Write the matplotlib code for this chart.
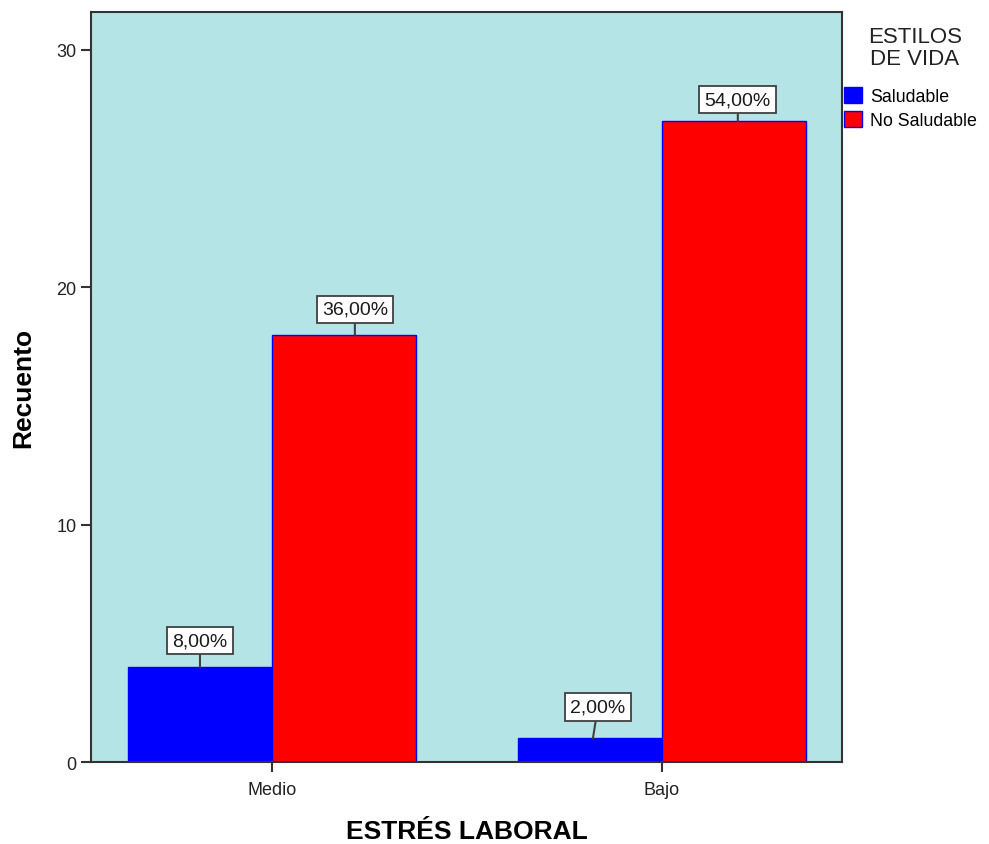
import matplotlib.pyplot as plt
import matplotlib.transforms as mtransforms
import numpy as np

plt.rcParams["font.family"] = ["Liberation Sans", "DejaVu Sans"]

categories = ["Medio", "Bajo"]
groups = ["Saludable", "No Saludable"]
counts = {
    "Saludable": [4, 1],
    "No Saludable": [18, 27],
}
total = 50
colors = {"Saludable": "#0000ff", "No Saludable": "#ff0000"}

# label placement per bar: (anchor dx, text dx, text dy) in pixels
label_offsets = {
    "Saludable": [(0, 0, 13), (3, 8, 18)],
    "No Saludable": [(11, 11, 12), (4, 4, 8)],
}

fig = plt.figure(figsize=(9.89, 8.45), dpi=100)
ax = fig.add_axes([0.092, 0.097, 0.7594, 0.8876])
ax.set_facecolor("#b4e4e6")

x = np.arange(len(categories))
width = 0.369
for i, g in enumerate(groups):
    pos = x + (i - 0.5) * width
    ax.bar(pos, counts[g], width, color=colors[g], edgecolor="#0000ff",
           linewidth=1.0, label=g, zorder=2)
    for j, (xp, v) in enumerate(zip(pos, counts[g])):
        adx, tdx, tdy = label_offsets[g][j]
        anchor = mtransforms.offset_copy(ax.transData, fig=fig, x=adx, y=0,
                                         units="dots")
        pct = f"{v / total * 100:.2f}%".replace(".", ",")
        ax.annotate(pct, xy=(xp, v), xycoords=anchor,
                    xytext=(tdx - adx, tdy + 5), textcoords="offset pixels",
                    ha="center", va="bottom", fontsize=14, color="#1a1a1a",
                    bbox=dict(boxstyle="square,pad=0.27", fc="white",
                              ec="#404040", lw=1.3),
                    arrowprops=dict(arrowstyle="-", color="#404040", lw=1.5,
                                    shrinkA=0, shrinkB=0),
                    zorder=4)

ax.set_xlim(-0.464, 1.462)
ax.set_ylim(0, 31.6)
ax.set_yticks([0, 10, 20, 30])
ax.set_xticks(x)
ax.set_xticklabels(categories)
ax.tick_params(axis="both", labelsize=13, color="#333333", width=1.5,
               length=7, labelcolor="#222222")
ax.tick_params(axis="x", pad=7)
for s in ax.spines.values():
    s.set_color("#333333")
    s.set_linewidth(1.5)

ax.set_xlabel("ESTRÉS LABORAL", fontsize=19, fontweight="bold", labelpad=15)
ax.set_ylabel("Recuento", fontsize=19, fontweight="bold", labelpad=15)

# legend title drawn separately so it sits a little higher above the entries
fig.text(915 / 989, 1 - 27 / 845, "ESTILOS\nDE VIDA", ha="center", va="top",
         fontsize=16, color="#222222", linespacing=1.05)
ax.legend(loc="upper left", bbox_to_anchor=(844 / 989, 1 - 88 / 845),
          bbox_transform=fig.transFigure, frameon=False,
          fontsize=12.8, handlelength=1.0, handleheight=1.0,
          handletextpad=0.45, labelspacing=0.35, borderpad=0,
          borderaxespad=0)

fig.savefig("out.png", dpi=100)
